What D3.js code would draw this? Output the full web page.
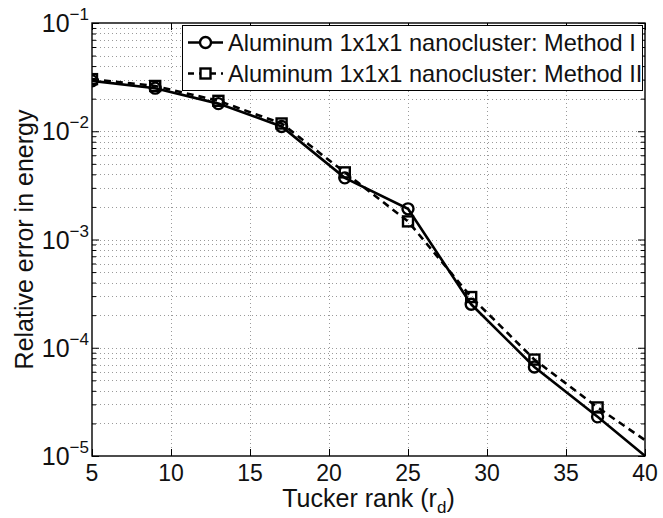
<!DOCTYPE html>
<html><head><meta charset="utf-8">
<script src="https://cdn.jsdelivr.net/npm/d3@7"></script>
<style>body{margin:0;background:#fff} svg{display:block}</style>
</head><body><svg id="c" width="663" height="518"></svg>
<script>
const ranks = [5, 9, 13, 17, 21, 25, 29, 33, 37, 41];
const methodI = [0.0292, 0.0250, 0.0180, 0.01107, 0.00371, 0.00192, 0.000252, 6.65e-5, 2.30e-5, 7.6e-6];
const methodII = [0.0303, 0.0262, 0.0191, 0.0118, 0.00417, 0.00147, 0.000294, 7.78e-5, 2.81e-5, 1.11e-5];
const xTicks = [5, 10, 15, 20, 25, 30, 35, 40];
const yTickExps = [-1, -2, -3, -4, -5];
const seriesNames = ["Aluminum 1x1x1 nanocluster: Method I", "Aluminum 1x1x1 nanocluster: Method II"];
const xLabelMain = "Tucker rank (r";
const xLabelSub = "d";
const xLabelEnd = ")";
const yLabel = "Relative error in energy";

const FONT = "'Liberation Sans', Arial, Helvetica, sans-serif";
const m = {l: 92, r: 645, t: 23, b: 456};
const svg = d3.select("#c").style("font-family", FONT);

const x = d3.scaleLinear().domain([5, 40]).range([m.l, m.r]);
const y = d3.scaleLog().domain([1e-5, 1e-1]).range([m.b, m.t]);

const yMinor = [];
for (let e = -5; e < -1; e++) for (let k = 2; k <= 9; k++) yMinor.push(k * Math.pow(10, e));
const yMajor = yTickExps.map(e => Math.pow(10, e));

// grid
const grid = svg.append("g").attr("stroke", "#9a9a9a").attr("stroke-width", 1).attr("stroke-dasharray", "1,3");
grid.selectAll("line.gx").data(xTicks.slice(1, -1)).join("line")
  .attr("x1", d => Math.round(x(d)) + 0.5).attr("x2", d => Math.round(x(d)) + 0.5)
  .attr("y1", m.t).attr("y2", m.b);
grid.selectAll("line.gy").data(yMinor.concat(yMajor.slice(1, -1))).join("line")
  .attr("y1", d => Math.round(y(d)) + 0.5).attr("y2", d => Math.round(y(d)) + 0.5)
  .attr("x1", m.l).attr("x2", m.r);

// axes with inward ticks
const axG = svg.append("g");
const xAxB = d3.axisBottom(x).tickValues(xTicks).tickSizeInner(-7).tickSizeOuter(0).tickFormat("");
const xAxT = d3.axisTop(x).tickValues(xTicks).tickSizeInner(-7).tickSizeOuter(0).tickFormat("");
const yAxL = d3.axisLeft(y).tickValues(yMajor).tickSizeInner(-7).tickSizeOuter(0).tickFormat("");
const yAxR = d3.axisRight(y).tickValues(yMajor).tickSizeInner(-7).tickSizeOuter(0).tickFormat("");
const yAxLm = d3.axisLeft(y).tickValues(yMinor).tickSizeInner(-4).tickSizeOuter(0).tickFormat("");
const yAxRm = d3.axisRight(y).tickValues(yMinor).tickSizeInner(-4).tickSizeOuter(0).tickFormat("");
axG.append("g").attr("transform", `translate(0,${m.b})`).call(xAxB);
axG.append("g").attr("transform", `translate(0,${m.t})`).call(xAxT);
axG.append("g").attr("transform", `translate(${m.l},0)`).call(yAxL);
axG.append("g").attr("transform", `translate(${m.r},0)`).call(yAxR);
axG.append("g").attr("transform", `translate(${m.l},0)`).call(yAxLm);
axG.append("g").attr("transform", `translate(${m.r},0)`).call(yAxRm);
axG.selectAll(".domain").remove();
axG.selectAll("line").attr("stroke", "#000").attr("stroke-width", 1);

// clip
svg.append("clipPath").attr("id", "clip").append("rect")
  .attr("x", m.l).attr("y", m.t).attr("width", m.r - m.l).attr("height", m.b - m.t);
const plot = svg.append("g").attr("clip-path", "url(#clip)");

const line = d3.line().x((d, i) => x(ranks[i])).y(d => y(d));
plot.append("path").datum(methodII).attr("d", line).attr("fill", "none")
  .attr("stroke", "#000").attr("stroke-width", 2.6).attr("stroke-dasharray", "7,5");
plot.append("path").datum(methodI).attr("d", line).attr("fill", "none")
  .attr("stroke", "#000").attr("stroke-width", 2.6);

const sq = 10;
plot.selectAll("rect.m2").data(methodII).join("rect")
  .attr("x", (d, i) => x(ranks[i]) - sq / 2).attr("y", d => y(d) - sq / 2)
  .attr("width", sq).attr("height", sq).attr("fill", "none").attr("stroke", "#000").attr("stroke-width", 2.4);
plot.selectAll("circle.m1").data(methodI).join("circle")
  .attr("cx", (d, i) => x(ranks[i])).attr("cy", d => y(d)).attr("r", 5.5)
  .attr("fill", "none").attr("stroke", "#000").attr("stroke-width", 2.4);

// frame
svg.append("rect").attr("x", m.l).attr("y", m.t).attr("width", m.r - m.l).attr("height", m.b - m.t)
  .attr("fill", "none").attr("stroke", "#000").attr("stroke-width", 1.4);

// tick labels
svg.append("g").selectAll("text").data(xTicks).join("text")
  .attr("x", d => x(d)).attr("y", 481).attr("text-anchor", "middle")
  .attr("font-size", 23).attr("fill", "#111").text(d => d);
const yl = svg.append("g").selectAll("text").data(yTickExps).join("text")
  .attr("x", 89).attr("y", d => y(Math.pow(10, d)) + 9).attr("text-anchor", "end")
  .attr("font-size", 25).attr("fill", "#111");
yl.append("tspan").text("10");
yl.append("tspan").attr("dy", -12).attr("font-size", 17).text(d => "\u2212" + (-d));

// axis labels
const xl = svg.append("text").attr("x", (m.l + m.r) / 2).attr("y", 507).attr("text-anchor", "middle")
  .attr("font-size", 25).attr("fill", "#111");
xl.append("tspan").text(xLabelMain);
xl.append("tspan").attr("dy", 6).attr("font-size", 17).text(xLabelSub);
xl.append("tspan").attr("dy", -6).text(xLabelEnd);
svg.append("text").attr("transform", `translate(33,${(m.t + m.b) / 2}) rotate(-90)`)
  .attr("text-anchor", "middle").attr("font-size", 25).attr("fill", "#111").text(yLabel);

// legend
const lg = svg.append("g");
lg.append("clipPath").attr("id", "lclip").append("rect").attr("x", 182).attr("y", 25).attr("width", 460).attr("height", 66);
lg.append("rect").attr("x", 182.5).attr("y", 25.5).attr("width", 460).attr("height", 65)
  .attr("fill", "#fff").attr("stroke", "#000").attr("stroke-width", 1);
const rowsY = [42.5, 73.5];
const dashes = [null, "6,5"];
seriesNames.forEach((name, i) => {
  const ry = rowsY[i];
  lg.append("line").attr("x1", 188).attr("x2", 223).attr("y1", ry).attr("y2", ry)
    .attr("stroke", "#000").attr("stroke-width", 2.6).attr("stroke-dasharray", dashes[i]);
  if (i === 0) {
    lg.append("circle").attr("cx", 205.5).attr("cy", ry).attr("r", 5.5).attr("fill", "#fff")
      .attr("stroke", "#000").attr("stroke-width", 2.4);
  } else {
    lg.append("rect").attr("x", 200.5).attr("y", ry - 5).attr("width", 10).attr("height", 10).attr("fill", "#fff")
      .attr("stroke", "#000").attr("stroke-width", 2.4);
  }
  lg.append("text").attr("clip-path", "url(#lclip)").attr("x", 228).attr("y", ry + 8)
    .attr("font-size", 23.6).attr("fill", "#111").text(name);
});
</script></body></html>
